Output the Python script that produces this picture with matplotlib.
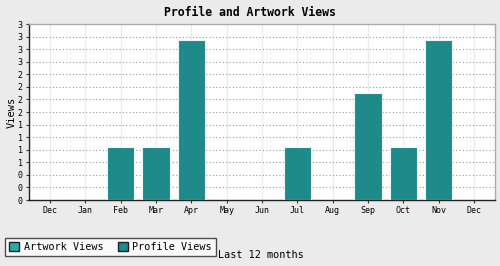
import numpy as np
import matplotlib
matplotlib.use("Agg")
import matplotlib.pyplot as plt
from matplotlib.patches import Patch

months = ["Dec", "Jan", "Feb", "Mar", "Apr", "May", "Jun", "Jul", "Aug", "Sep", "Oct", "Nov", "Dec"]
artwork_views = [0, 0, 0, 0, 0, 0, 0, 0, 0, 0, 0, 0, 0]
profile_views = [0, 0, 1, 1, 3, 0, 0, 1, 0, 2, 1, 3, 0]

plt.rcParams['font.family'] = ['DejaVu Sans Mono']

art_col = '#2aabaa'
prof_col = '#1e8a89'

fig = plt.figure(figsize=(5, 2.66), dpi=100, facecolor='#ebebeb')
ax = fig.add_axes([29/500, 1 - 200/266, 466/500, 176/266])
ax.set_facecolor('white')

x = np.arange(len(months))
ax.bar(x, artwork_views, width=0.77, color=art_col, edgecolor='#eef4f4', lw=0.8, zorder=3)
ax.bar(x, profile_views, width=0.77, color=prof_col, edgecolor='#eef4f4', lw=0.8, zorder=3)

ymax = max(profile_views) * 1.1
yt = np.linspace(0, ymax, 15)
ax.set_ylim(0, ymax)
ax.set_yticks(yt)
ax.set_yticklabels(["%.0f" % v for v in yt])
ax.set_xlim(-0.6, len(months) - 0.4)
ax.set_xticks(x)
ax.set_xticklabels(months)

ax.tick_params(axis='both', labelsize=6, length=2.5, width=0.8, color='#333333', pad=2)
for v in yt[1:-1]:
    ax.axhline(v, color='#999999', lw=0.8, ls=(0, (1, 2)), zorder=1)
for xi in x:
    ax.axvline(xi, color='#ececec', lw=1, zorder=0)

for s in ['left', 'bottom']:
    ax.spines[s].set_color('#222222')
    ax.spines[s].set_linewidth(1)
for s in ['top', 'right']:
    ax.spines[s].set_color('#aaaaaa')
    ax.spines[s].set_linewidth(1)

ax.set_ylabel("Views", fontsize=7.5, labelpad=1)
fig.suptitle("Profile and Artwork Views", fontsize=8.3, fontweight='bold', y=1 - 12/266, va='center', x=0.5)

handles = [Patch(facecolor=art_col, edgecolor='#222222', label='Artwork Views'),
           Patch(facecolor=prof_col, edgecolor='#222222', label='Profile Views')]
leg = fig.legend(handles=handles, loc='lower left', bbox_to_anchor=(5/500, 10/266), ncol=2,
                 fontsize=7.3, frameon=True, fancybox=False, edgecolor='#222222',
                 handlelength=1.0, handleheight=1.0, handletextpad=0.45, columnspacing=1.4,
                 borderpad=0.4, borderaxespad=0)
leg.get_frame().set_linewidth(1)
fig.text(218/500, 1 - 255/266, "Last 12 months", fontsize=7.3, va='center', ha='left')

fig.savefig("out.png", dpi=100, facecolor=fig.get_facecolor())
